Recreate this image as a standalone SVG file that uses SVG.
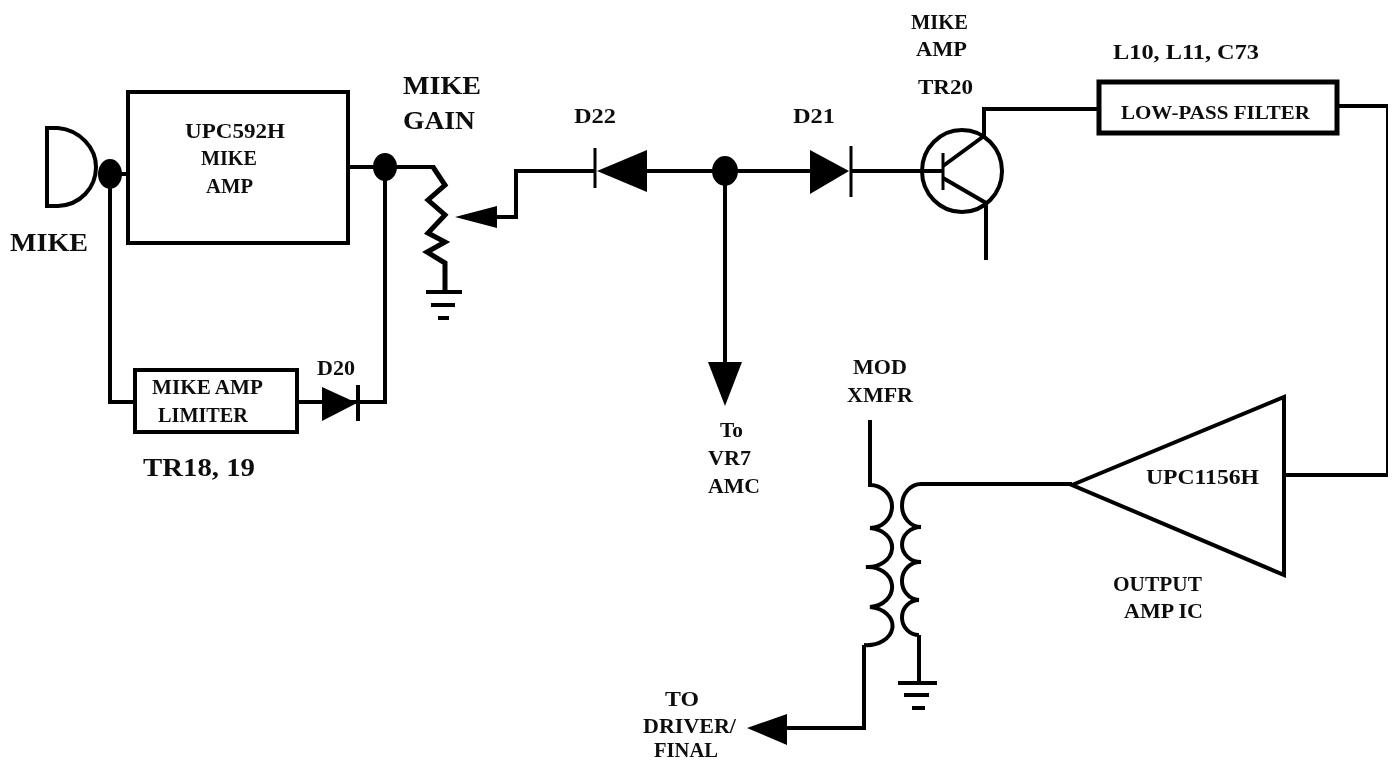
<svg xmlns="http://www.w3.org/2000/svg" width="1393" height="763" viewBox="0 0 1393 763">
<defs>
<style>
.w{fill:none;stroke:#000;stroke-width:4;stroke-linejoin:miter}
.t{stroke-width:3}
.f{fill:#000;stroke:none}
text{font-family:"Liberation Serif","Times New Roman",serif;font-weight:bold;fill:#111}
.s{font-size:19px}.m{font-size:21px}.l{font-size:26px}
</style>
<filter id="soft" x="0" y="0" width="100%" height="100%"><feGaussianBlur stdDeviation="0.5"/></filter>
</defs>
<rect width="1393" height="763" fill="#fff"/>
<g filter="url(#soft)">
<g id="connectors">
<path class="w" d="M110 174H128M110 174V402H135"/>
<path class="w" d="M348 167H435"/>
<path class="w" d="M385 167V403"/>
<path class="w" d="M297 402H387"/>
<path class="w" d="M495 217H516V171H595"/>
<path class="w" d="M647 171H810"/>
<path class="w" d="M851 171H943"/>
<path class="w" d="M725 171V365"/>
<path class="w" d="M984 136V109H1099"/>
<path class="w" d="M1337 106H1388V475H1284"/>
<path class="w" d="M921 484H1072"/>
<path class="w" d="M864 645V728H785"/>
<path class="w" d="M919 635V683"/>
</g>
<g id="mike"><path class="w" d="M47 128H58C80 130 96 148 96 167C96 188 80 205 58 206H47Z"/><ellipse class="f" cx="110" cy="174" rx="12" ry="15"/></g>
<g id="mike-label"><text class="l" x="10" y="251" textLength="78" lengthAdjust="spacingAndGlyphs">MIKE</text></g>
<g id="upc592h"><rect class="w" x="128" y="92" width="220" height="151"/>
<text class="m" x="185" y="138" textLength="100" lengthAdjust="spacingAndGlyphs">UPC592H</text>
<text class="m" x="201" y="165" textLength="56" lengthAdjust="spacingAndGlyphs">MIKE</text>
<text class="m" x="206" y="193" textLength="47" lengthAdjust="spacingAndGlyphs">AMP</text></g>
<g id="junction-out"><ellipse class="f" cx="385" cy="167" rx="12" ry="14"/></g>
<g id="mike-gain"><path class="w" style="stroke-width:5" d="M433 167L445 185L428 200L445 215L428 233L445 242L427 252L445 263V292"/>
<path class="w" d="M426 292H462M431 305H455M438 318H449"/>
<path class="f" d="M455 217L497 206V228Z"/>
<text class="l" x="403" y="94" textLength="78" lengthAdjust="spacingAndGlyphs">MIKE</text>
<text class="l" x="403" y="129" textLength="72" lengthAdjust="spacingAndGlyphs">GAIN</text></g>
<g id="limiter"><rect class="w" x="135" y="370" width="162" height="62"/>
<text class="m" x="152" y="394" textLength="111" lengthAdjust="spacingAndGlyphs">MIKE AMP</text>
<text class="m" x="158" y="422" textLength="90" lengthAdjust="spacingAndGlyphs">LIMITER</text>
<text class="l" x="143" y="476" textLength="112" lengthAdjust="spacingAndGlyphs">TR18, 19</text></g>
<g id="d20"><path class="f" d="M322 387L357 403L322 421Z"/><path class="w" d="M358 385V421"/>
<text class="m" x="317" y="375" textLength="38" lengthAdjust="spacingAndGlyphs">D20</text></g>
<g id="d22"><path class="f" d="M647 150V192L597 171Z"/><path class="w t" d="M595 148V188"/>
<text class="m" x="574" y="123" textLength="42" lengthAdjust="spacingAndGlyphs">D22</text></g>
<g id="junction-amc"><ellipse class="f" cx="725" cy="171" rx="13" ry="15"/></g>
<g id="d21"><path class="f" d="M810 150V194L849 171Z"/><path class="w t" d="M851 146V197"/>
<text class="m" x="793" y="123" textLength="42" lengthAdjust="spacingAndGlyphs">D21</text></g>
<g id="tr20"><ellipse class="w" cx="962" cy="171" rx="40" ry="41"/>
<path class="w t" d="M943 153V190"/><path class="w" d="M943 166L984 136M943 178L986 203V260"/>
<text class="m" x="911" y="29" textLength="57" lengthAdjust="spacingAndGlyphs">MIKE</text>
<text class="m" x="916" y="56" textLength="51" lengthAdjust="spacingAndGlyphs">AMP</text>
<text class="m" x="918" y="94" textLength="55" lengthAdjust="spacingAndGlyphs">TR20</text></g>
<g id="low-pass"><rect class="w" x="1099" y="82" width="238" height="51" style="stroke-width:5"/>
<text class="s" x="1121" y="119" textLength="189" lengthAdjust="spacingAndGlyphs">LOW-PASS FILTER</text>
<text class="m" x="1113" y="59" textLength="146" lengthAdjust="spacingAndGlyphs">L10, L11, C73</text></g>
<g id="to-vr7"><path class="f" d="M708 362H742L725 406Z"/>
<text class="m" x="720" y="437" textLength="23" lengthAdjust="spacingAndGlyphs">To</text>
<text class="m" x="708" y="465" textLength="43" lengthAdjust="spacingAndGlyphs">VR7</text>
<text class="m" x="708" y="493" textLength="52" lengthAdjust="spacingAndGlyphs">AMC</text></g>
<g id="xmfr"><path class="w" d="M870 420V485A22 21.5 0 0 1 870 528A24 19.5 0 0 1 866 567A24 20 0 0 1 870 607A24 18 0 0 1 864 645"/>
<path class="w" d="M921 484A19 21.5 0 0 0 921 527A19 17.5 0 0 0 921 562A18 19 0 0 0 919 600A17 17.5 0 0 0 919 635"/>
<path class="w" d="M898 683H937M904 695H929M912 708H925"/>
<text class="m" x="853" y="374" textLength="54" lengthAdjust="spacingAndGlyphs">MOD</text>
<text class="m" x="847" y="402" textLength="66" lengthAdjust="spacingAndGlyphs">XMFR</text></g>
<g id="upc1156h"><path class="w" d="M1072 485L1284 397V575Z"/>
<text class="m" x="1146" y="484" textLength="113" lengthAdjust="spacingAndGlyphs">UPC1156H</text>
<text class="m" x="1113" y="591" textLength="89" lengthAdjust="spacingAndGlyphs">OUTPUT</text>
<text class="m" x="1124" y="618" textLength="79" lengthAdjust="spacingAndGlyphs">AMP IC</text></g>
<g id="to-driver"><path class="f" d="M747 728L787 714V745Z"/>
<text class="m" x="665" y="706" textLength="34" lengthAdjust="spacingAndGlyphs">TO</text>
<text class="m" x="643" y="733" textLength="93" lengthAdjust="spacingAndGlyphs">DRIVER/</text>
<text class="m" x="654" y="757" textLength="64" lengthAdjust="spacingAndGlyphs">FINAL</text></g>
</g>
</svg>
